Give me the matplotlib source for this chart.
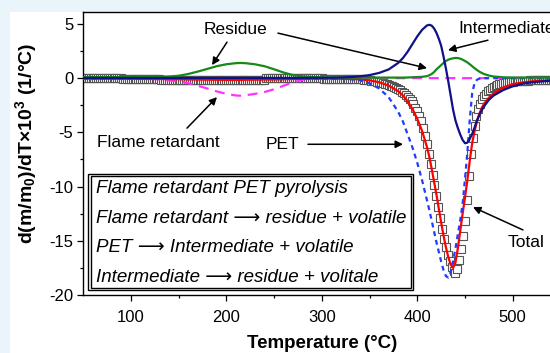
import numpy as np
import matplotlib
matplotlib.use("Agg")
import matplotlib.pyplot as plt
from matplotlib.patches import Rectangle

plt.rcParams["font.family"] = ["Liberation Sans", "DejaVu Sans"]
plt.rcParams["mathtext.fontset"] = "custom"
plt.rcParams["mathtext.rm"] = "Liberation Sans"
plt.rcParams["mathtext.it"] = "Liberation Sans:italic"
plt.rcParams["mathtext.bf"] = "Liberation Sans:bold"
plt.rcParams["axes.unicode_minus"] = False

# Measured DTG curve, one sample every 2 °C from 50 to 550 °C
measured_temp = np.arange(50, 552, 2)
measured_dtg = [
    0.00, 0.00, 0.00, 0.00, 0.00, 0.00, 0.00, 0.00, 0.00, 0.00,
    0.00, 0.00, 0.00, 0.00, 0.00, 0.00, 0.00, 0.00, 0.00, 0.00,
    0.00, -0.12, -0.12, -0.12, -0.12, -0.12, -0.12, -0.12, -0.12, -0.12,
    -0.12, -0.12, -0.12, -0.12, -0.12, -0.12, -0.12, -0.12, -0.12, -0.12,
    -0.12, -0.18, -0.18, -0.18, -0.18, -0.18, -0.18, -0.18, -0.18, -0.18,
    -0.18, -0.18, -0.18, -0.18, -0.18, -0.18, -0.18, -0.18, -0.18, -0.18,
    -0.18, -0.18, -0.18, -0.18, -0.18, -0.18, -0.18, -0.18, -0.18, -0.18,
    -0.18, -0.18, -0.18, -0.18, -0.18, -0.18, -0.18, -0.18, -0.18, -0.18,
    -0.18, -0.18, -0.18, -0.18, -0.18, -0.18, -0.18, -0.18, -0.18, -0.18,
    -0.18, -0.18, -0.18, -0.18, -0.18, -0.18, -0.02, -0.02, -0.02, -0.02,
    -0.02, -0.02, -0.02, -0.02, -0.02, -0.02, -0.02, -0.02, -0.02, -0.02,
    -0.02, -0.02, -0.02, -0.02, -0.02, -0.02, -0.02, -0.02, -0.02, -0.02,
    -0.02, -0.02, -0.02, -0.02, -0.02, -0.02, -0.05, -0.05, -0.05, -0.05,
    -0.05, -0.05, -0.05, -0.05, -0.05, -0.05, -0.05, -0.05, -0.05, -0.05,
    -0.05, -0.05, -0.06, -0.07, -0.08, -0.10, -0.11, -0.13, -0.15, -0.17,
    -0.20, -0.23, -0.26, -0.29, -0.32, -0.36, -0.40, -0.45, -0.50, -0.56,
    -0.62, -0.69, -0.76, -0.84, -0.92, -1.00, -1.10, -1.25, -1.40, -1.55,
    -1.72, -1.92, -2.15, -2.42, -2.72, -3.05, -3.45, -3.95, -4.60, -5.30,
    -6.10, -7.00, -7.90, -8.90, -9.90, -10.90, -11.90, -12.90, -13.90, -14.80,
    -15.60, -16.30, -16.90, -17.40, -17.80, -18.00, -17.60, -16.80, -15.80, -14.60,
    -13.20, -11.20, -9.00, -7.00, -5.50, -4.40, -3.50, -2.85, -2.35, -1.95,
    -1.65, -1.42, -1.22, -1.06, -0.93, -0.82, -0.73, -0.65, -0.58, -0.52,
    -0.47, -0.43, -0.40, -0.37, -0.34, -0.32, -0.30, -0.28, -0.27, -0.26,
    -0.25, -0.24, -0.23, -0.22, -0.21, -0.20, -0.20, -0.20, -0.19, -0.19,
    -0.19, -0.18, -0.18, -0.18, -0.17, -0.17, -0.17, -0.16, -0.16, -0.16,
    -0.15,
]

# Model curves (total and the three reaction contributions)
fit_temp = [
    50, 100, 130, 140, 150, 160, 170, 180, 190, 200,
    210, 215, 220, 230, 240, 250, 260, 270, 280, 290,
    300, 320, 330, 340, 350, 360, 370, 380, 385, 390,
    395, 400, 405, 410, 412.5, 415, 417.5, 420, 422.5, 425,
    427.5, 430, 432.5, 435, 437.5, 440, 442.5, 445, 447.5, 450,
    452.5, 455, 457.5, 460, 462.5, 465, 467.5, 470, 475, 480,
    490, 500, 510, 520, 535, 550,
]
fit_total = [
    -0.05, -0.06, -0.08, -0.09, -0.10, -0.12, -0.13, -0.14, -0.15, -0.16,
    -0.16, -0.16, -0.15, -0.14, -0.13, -0.12, -0.10, -0.08, -0.06, -0.05,
    -0.04, -0.05, -0.07, -0.11, -0.20, -0.38, -0.68, -1.20, -1.60, -2.15,
    -2.85, -3.75, -4.85, -6.30, -7.20, -8.30, -9.50, -10.70, -12.00, -13.30,
    -14.50, -15.60, -16.50, -17.20, -17.50, -17.00, -15.70, -14.10, -12.50, -11.00,
    -9.40, -7.60, -6.00, -4.90, -4.00, -3.30, -2.75, -2.35, -1.80, -1.40,
    -0.85, -0.55, -0.40, -0.30, -0.22, -0.18,
]
fit_pet = [
    -0.05, -0.05, -0.05, -0.05, -0.05, -0.05, -0.05, -0.05, -0.05, -0.05,
    -0.05, -0.05, -0.05, -0.05, -0.05, -0.05, -0.05, -0.05, -0.05, -0.05,
    -0.05, -0.06, -0.10, -0.20, -0.48, -0.95, -1.75, -3.10, -4.00, -5.20,
    -6.40, -7.80, -9.40, -11.20, -12.10, -13.10, -14.10, -15.10, -16.00, -16.90,
    -17.70, -18.25, -18.40, -17.90, -16.90, -15.70, -14.40, -13.10, -11.60, -9.30,
    -6.80, -3.80, -1.40, -0.45, -0.15, -0.05, 0.00, 0.00, 0.00, 0.00,
    0.00, 0.00, 0.00, 0.00, 0.00, 0.00,
]
fit_intermediate = [
    0.02, 0.02, 0.02, 0.02, 0.02, 0.02, 0.02, 0.02, 0.02, 0.02,
    0.02, 0.02, 0.02, 0.02, 0.02, 0.02, 0.02, 0.02, 0.02, 0.03,
    0.03, 0.06, 0.10, 0.17, 0.28, 0.48, 0.80, 1.40, 1.85, 2.45,
    3.15, 3.85, 4.45, 4.85, 4.92, 4.85, 4.60, 4.20, 3.65, 3.00,
    2.00, 0.90, -0.30, -1.60, -2.90, -3.90, -4.60, -5.20, -5.70, -6.00,
    -5.95, -5.60, -5.15, -4.55, -3.90, -3.40, -2.95, -2.60, -2.00, -1.60,
    -1.10, -0.75, -0.52, -0.38, -0.27, -0.20,
]
fit_residue = [
    0.10, 0.10, 0.12, 0.15, 0.22, 0.38, 0.60, 0.85, 1.10, 1.28,
    1.38, 1.40, 1.38, 1.28, 1.10, 0.82, 0.52, 0.28, 0.15, 0.10,
    0.08, 0.06, 0.05, 0.05, 0.05, 0.05, 0.05, 0.05, 0.05, 0.06,
    0.08, 0.10, 0.12, 0.18, 0.26, 0.38, 0.55, 0.80, 1.00, 1.20,
    1.40, 1.58, 1.70, 1.78, 1.83, 1.86, 1.85, 1.80, 1.70, 1.58,
    1.45, 1.28, 1.10, 0.92, 0.75, 0.60, 0.48, 0.38, 0.24, 0.15,
    0.08, 0.06, 0.05, 0.05, 0.05, 0.05,
]
fit_flame_retardant = [
    0.00, 0.00, -0.10, -0.20, -0.30, -0.45, -0.70, -0.95, -1.22, -1.45,
    -1.60, -1.62, -1.58, -1.45, -1.28, -1.03, -0.70, -0.38, -0.15, -0.05,
    0.00, 0.00, 0.00, 0.00, 0.00, 0.00, 0.00, 0.00, 0.00, 0.00,
    0.00, 0.00, 0.00, 0.00, 0.00, 0.00, 0.00, 0.00, 0.00, 0.00,
    0.00, 0.00, 0.00, 0.00, 0.00, 0.00, 0.00, 0.00, 0.00, 0.00,
    0.00, 0.00, 0.00, 0.00, 0.00, 0.00, 0.00, 0.00, 0.00, 0.00,
    0.00, 0.00, 0.00, 0.00, 0.00, 0.00,
]

reaction_lines = [
    "Flame retardant PET pyrolysis",
    "Flame retardant \u27f6 residue + volatile",
    "PET \u27f6 Intermediate + volatile",
    "Intermediate \u27f6 residue + volitale",
]

W, H = 550, 353
fig = plt.figure(figsize=(W / 100, H / 100), dpi=100, facecolor="#e9f5fb")
fig.patches.append(Rectangle((10 / W, 0), 1, 1 - 12 / H, transform=fig.transFigure,
                             facecolor="white", edgecolor="none", zorder=-5))
ax = fig.add_axes([83 / W, 58 / H, 477.5 / W, 283 / H])
ax.set_zorder(1)
ax.set_facecolor("white")
ax.set_xlim(50, 550)
ax.set_ylim(-20, 6.1)

ax.plot(measured_temp, measured_dtg, ls="none", marker="s", ms=5.5,
        mfc="white", mec="#555555", mew=0.8, zorder=2)
ax.plot(fit_temp, fit_flame_retardant, color="#ff33ff", lw=1.6,
        dashes=(4.5, 3), zorder=3)
ax.plot(fit_temp, fit_total, color="#ff0000", lw=1.6, zorder=4)
ax.plot(fit_temp, fit_pet, color="#1f3dff", lw=1.6, dashes=(2.2, 1.8), zorder=4)
ax.plot(fit_temp, fit_residue, color="#168a16", lw=1.6, zorder=5)
ax.plot(fit_temp, fit_intermediate, color="#10108a", lw=1.6, zorder=6)

arrow = dict(arrowstyle="-|>", color="black", lw=1.1, mutation_scale=11,
             shrinkA=0, shrinkB=0)
fs = 12.5
ax.text(210.2, 4.5, "Residue", fontsize=fs, ha="center", va="center")
ax.annotate("", xy=(185.1, 1.2), xytext=(200.8, 3.32), arrowprops=arrow)
ax.annotate("", xy=(410.2, 0.92), xytext=(254.2, 4.15), arrowprops=arrow)
ax.text(442.7, 4.6, "Intermediate", fontsize=fs, ha="left", va="center",
        clip_on=False)
ax.annotate("", xy=(432.2, 2.58), xytext=(474.0, 3.5), arrowprops=arrow)
ax.text(64.7, -5.9, "Flame retardant", fontsize=fs, ha="left", va="center")
ax.annotate("", xy=(190.3, -1.75), xytext=(158.9, -4.61), arrowprops=arrow)
ax.text(258.4, -6.1, "PET", fontsize=fs, ha="center", va="center")
ax.annotate("", xy=(385.1, -6.1), xytext=(285.6, -6.1), arrowprops=arrow)
ax.text(495.0, -15.2, "Total", fontsize=fs, ha="left", va="center")
ax.annotate("", xy=(458.4, -11.9), xytext=(510.7, -14.0), arrowprops=arrow)

# framed reaction scheme (double border)
ax.add_patch(Rectangle((55.2, -19.56), 395.5 - 55.2, -8.86 + 19.56,
                       facecolor="white", edgecolor="black", lw=1.0, zorder=7))
ax.add_patch(Rectangle((58.4, -19.34), 393.1 - 58.4, -9.07 + 19.34,
                       facecolor="none", edgecolor="black", lw=1.0, zorder=8))
for y, line in zip([-10.15, -12.92, -15.59, -18.36], reaction_lines):
    ax.text(63.6, y, line, fontsize=13.5, style="italic", ha="left",
            va="center", zorder=9)

ax.set_xticks([100, 200, 300, 400, 500])
ax.set_xticks([150, 250, 350, 450], minor=True)
ax.set_yticks([-20, -15, -10, -5, 0, 5])
ax.set_yticks([-17.5, -12.5, -7.5, -2.5, 2.5], minor=True)
ax.tick_params(which="major", direction="out", length=4, width=0.9,
               labelsize=12, pad=3)
ax.tick_params(axis="x", which="major", pad=7)
ax.tick_params(which="minor", direction="out", length=2.5, width=0.9)
ax.tick_params(axis="x", which="both", top=False)
ax.tick_params(axis="y", which="both", right=False)
for s in ax.spines.values():
    s.set_linewidth(1.0)

fig.text(322 / W, 1 - 343 / H, "Temperature (\u00b0C)", fontsize=13.5,
         fontweight="bold", ha="center", va="center")
fig.text(26 / W, 1 - 143 / H,
         "d(m/m$_\\mathbf{0}$)/dT\u00d710$^\\mathbf{3}$ (1/\u00b0C)",
         fontsize=14, fontweight="bold", rotation=90, ha="center", va="center")

fig.savefig("out.png", dpi=100, facecolor=fig.get_facecolor())
